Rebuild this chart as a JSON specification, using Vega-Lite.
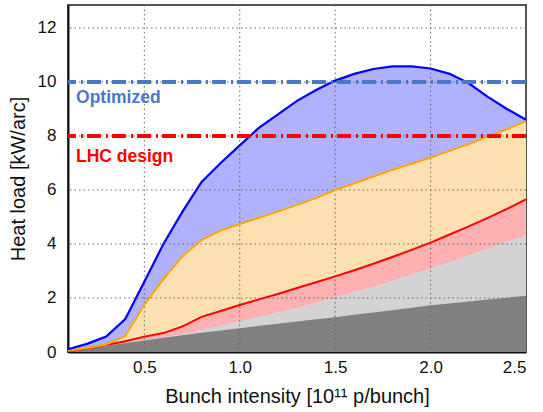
{
  "$schema": "https://vega.github.io/schema/vega-lite/v6.json",
  "autosize": "none",
  "width": 458,
  "height": 347,
  "padding": {"left": 68, "top": 5, "right": 17, "bottom": 60},
  "background": "white",
  "config": {
    "font": "Liberation Sans",
    "view": {"stroke": "#555", "strokeWidth": 2},
    "axis": {
      "labelFont": "Liberation Sans",
      "titleFont": "Liberation Sans",
      "labelFontSize": 17,
      "titleFontSize": 20,
      "titleFontWeight": "normal",
      "labelColor": "#111",
      "titleColor": "#111",
      "domainColor": "#111",
      "domainWidth": 2,
      "tickSize": 0,
      "grid": false
    }
  },
  "datasets": {
    "curves": [
      {"x": 0.1, "dark": 0.03, "lgray": 0.03, "red": 0.03, "orange": 0.05, "blue": 0.1},
      {"x": 0.2, "dark": 0.12, "lgray": 0.12, "red": 0.13, "orange": 0.15, "blue": 0.3},
      {"x": 0.3, "dark": 0.22, "lgray": 0.23, "red": 0.26, "orange": 0.28, "blue": 0.57},
      {"x": 0.4, "dark": 0.33, "lgray": 0.36, "red": 0.4, "orange": 0.59, "blue": 1.22},
      {"x": 0.5, "dark": 0.43, "lgray": 0.46, "red": 0.57, "orange": 1.75, "blue": 2.6},
      {"x": 0.6, "dark": 0.53, "lgray": 0.56, "red": 0.7, "orange": 2.7, "blue": 4.0},
      {"x": 0.7, "dark": 0.62, "lgray": 0.67, "red": 0.95, "orange": 3.55, "blue": 5.2},
      {"x": 0.8, "dark": 0.71, "lgray": 0.82, "red": 1.3, "orange": 4.15, "blue": 6.3},
      {"x": 0.9, "dark": 0.8, "lgray": 0.98, "red": 1.52, "orange": 4.5, "blue": 7.0},
      {"x": 1.0, "dark": 0.88, "lgray": 1.15, "red": 1.74, "orange": 4.74, "blue": 7.65},
      {"x": 1.1, "dark": 0.97, "lgray": 1.31, "red": 1.95, "orange": 4.97, "blue": 8.3},
      {"x": 1.2, "dark": 1.05, "lgray": 1.47, "red": 2.15, "orange": 5.2, "blue": 8.8},
      {"x": 1.3, "dark": 1.13, "lgray": 1.64, "red": 2.37, "orange": 5.45, "blue": 9.3},
      {"x": 1.4, "dark": 1.21, "lgray": 1.83, "red": 2.58, "orange": 5.7, "blue": 9.7},
      {"x": 1.5, "dark": 1.29, "lgray": 2.03, "red": 2.8, "orange": 6.0, "blue": 10.05},
      {"x": 1.6, "dark": 1.38, "lgray": 2.22, "red": 3.03, "orange": 6.25, "blue": 10.3},
      {"x": 1.7, "dark": 1.46, "lgray": 2.42, "red": 3.27, "orange": 6.5, "blue": 10.48},
      {"x": 1.8, "dark": 1.55, "lgray": 2.65, "red": 3.52, "orange": 6.75, "blue": 10.58},
      {"x": 1.9, "dark": 1.64, "lgray": 2.88, "red": 3.78, "orange": 6.97, "blue": 10.58},
      {"x": 2.0, "dark": 1.73, "lgray": 3.1, "red": 4.05, "orange": 7.2, "blue": 10.5},
      {"x": 2.1, "dark": 1.8, "lgray": 3.34, "red": 4.35, "orange": 7.45, "blue": 10.3},
      {"x": 2.2, "dark": 1.87, "lgray": 3.58, "red": 4.65, "orange": 7.7, "blue": 9.95},
      {"x": 2.3, "dark": 1.94, "lgray": 3.83, "red": 4.97, "orange": 7.98, "blue": 9.45},
      {"x": 2.4, "dark": 2.01, "lgray": 4.08, "red": 5.3, "orange": 8.25, "blue": 9.0},
      {"x": 2.5, "dark": 2.08, "lgray": 4.33, "red": 5.65, "orange": 8.55, "blue": 8.6}
    ],
    "xgrid": [{"g": 0.5}, {"g": 1.0}, {"g": 1.5}, {"g": 2.0}],
    "ygrid": [{"g": 2}, {"g": 4}, {"g": 6}, {"g": 8}, {"g": 10}, {"g": 12}],
    "limits": [
      {"level": 10, "label": "Optimized", "lx": 0.142, "ly": 9.4},
      {"level": 8, "label": "LHC design", "lx": 0.142, "ly": 7.22}
    ]
  },
  "data": {"name": "curves"},
  "layer": [
    {
      "mark": {"type": "area", "color": "#b0b2ff", "opacity": 1},
      "encoding": {
        "x": {
          "field": "x",
          "type": "quantitative",
          "scale": {"domain": [0.1, 2.5], "nice": false, "zero": false},
          "axis": {
            "title": "Bunch intensity [10¹¹ p/bunch]",
            "values": [0.5, 1.0, 1.5, 2.0, 2.5],
            "format": ".1f",
            "labelPadding": 7,
            "titlePadding": 11
          }
        },
        "y": {
          "field": "blue",
          "type": "quantitative",
          "scale": {"domain": [0, 12.85], "nice": false},
          "axis": {
            "title": "Heat load [kW/arc]",
            "values": [0, 2, 4, 6, 8, 10, 12],
            "labelPadding": 12,
            "titlePadding": 9
          }
        }
      }
    },
    {"mark": {"type": "area", "color": "#fde0b2", "opacity": 1}, "encoding": {"x": {"field": "x", "type": "quantitative"}, "y": {"field": "orange", "type": "quantitative"}}},
    {"mark": {"type": "area", "color": "#ffb0b0", "opacity": 1}, "encoding": {"x": {"field": "x", "type": "quantitative"}, "y": {"field": "red", "type": "quantitative"}}},
    {"mark": {"type": "area", "color": "#d3d3d3", "opacity": 1}, "encoding": {"x": {"field": "x", "type": "quantitative"}, "y": {"field": "lgray", "type": "quantitative"}}},
    {"mark": {"type": "area", "color": "#808080", "opacity": 1}, "encoding": {"x": {"field": "x", "type": "quantitative"}, "y": {"field": "dark", "type": "quantitative"}}},
    {
      "data": {"name": "xgrid"},
      "mark": {"type": "rule", "color": "#666", "strokeWidth": 1, "strokeDash": [1.5, 3]},
      "encoding": {"x": {"field": "g", "type": "quantitative"}}
    },
    {
      "data": {"name": "ygrid"},
      "mark": {"type": "rule", "color": "#666", "strokeWidth": 1, "strokeDash": [1.5, 3]},
      "encoding": {"y": {"field": "g", "type": "quantitative"}}
    },
    {"mark": {"type": "line", "color": "#ff0000", "strokeWidth": 2}, "encoding": {"x": {"field": "x", "type": "quantitative"}, "y": {"field": "red", "type": "quantitative"}}},
    {"mark": {"type": "line", "color": "#ffa500", "strokeWidth": 2}, "encoding": {"x": {"field": "x", "type": "quantitative"}, "y": {"field": "orange", "type": "quantitative"}}},
    {"mark": {"type": "line", "color": "#0000ff", "strokeWidth": 2.2}, "encoding": {"x": {"field": "x", "type": "quantitative"}, "y": {"field": "blue", "type": "quantitative"}}},
    {
      "data": {"name": "limits"},
      "mark": {"type": "rule", "strokeWidth": 4, "strokeDash": [14, 4, 2, 5]},
      "encoding": {
        "y": {"field": "level", "type": "quantitative"},
        "color": {"field": "label", "type": "nominal", "scale": {"domain": ["Optimized", "LHC design"], "range": ["#4a78c8", "#ff0000"]}, "legend": null}
      }
    },
    {
      "data": {"name": "limits"},
      "mark": {"type": "text", "fontWeight": "bold", "fontSize": 17.5, "align": "left", "baseline": "middle"},
      "encoding": {
        "x": {"field": "lx", "type": "quantitative"},
        "y": {"field": "ly", "type": "quantitative"},
        "text": {"field": "label"},
        "color": {"field": "label", "type": "nominal", "legend": null}
      }
    }
  ]
}
